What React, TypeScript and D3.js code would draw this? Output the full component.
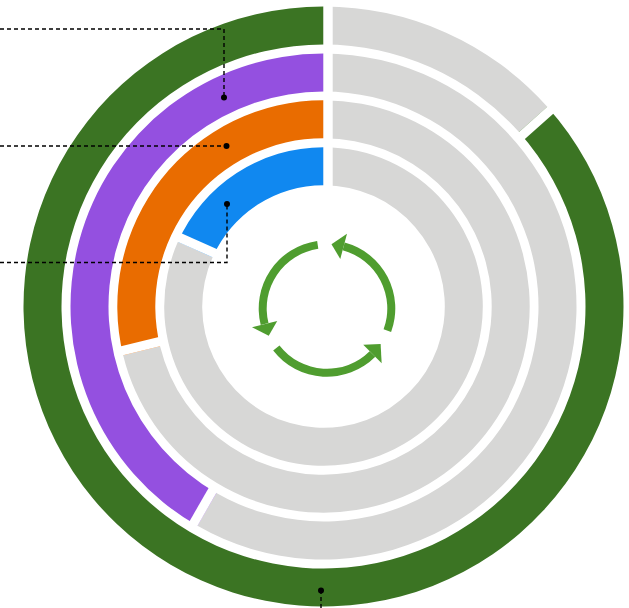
import React from "react";
import * as d3 from "d3";

const ringNames = ["outer", "second", "third", "inner"];
const ringShares = [86.6, 41.7, 28.8, 18.35];
const ringColors = ["#3b7423", "#9450e0", "#e96c00", "#1088f0"];
const restColor = "#d7d7d6";
const outerRadii = [300, 253, 206.2, 159.3];
const ringWidth = 38;
const gap = 9.2;

const arrowStarts = [-8.3, 232, 110.2];
const arrowEnds = [-104, 135, 15];
const arrowTips = [-115, 123.5, 4];

const leaderA = [[0, 29], [224, 29], [224, 97.5]];
const leaderB = [[0, 146], [226.5, 146]];
const leaderC = [[0, 262.5], [227, 262.5], [227, 204]];
const leaderD = [[321, 608], [321, 590.5]];
const leaders = [leaderA, leaderB, leaderC, leaderD];

const W = 629, H = 608;
const cx = 323.5, cy = 306.5;
const acx = 327, acy = 308.5, ar = 64.3;

const shareToAngle = d3.scaleLinear().domain([0, 100]).range([0, 2 * Math.PI]);
const deg = (d: number) => (d * Math.PI) / 180;
const polar = (a: number, r: number): [number, number] => [
  acx + r * Math.sin(deg(a)),
  acy - r * Math.cos(deg(a)),
];

export default function App() {
  const arc = d3.arc();
  const arrowArc = d3.arc();
  const line = d3.line();
  return (
    <svg
      width={W}
      height={H}
      viewBox={`0 0 ${W} ${H}`}
      style={{ position: "absolute", left: 0, top: 0, display: "block" }}
    >
      <rect width={W} height={H} fill="#fff" />
      <g transform={`translate(${cx},${cy})`}>
        {ringNames.map((name, i) => {
          const share = ringShares[i];
          const boundary = shareToAngle(100 - share);
          const R = outerRadii[i];
          const r0 = R - ringWidth;
          return (
            <g key={name}>
              <path
                d={arc({ innerRadius: r0, outerRadius: R, startAngle: 0, endAngle: boundary } as any) as string}
                fill={restColor}
              />
              <path
                d={arc({ innerRadius: r0, outerRadius: R, startAngle: boundary, endAngle: 2 * Math.PI } as any) as string}
                fill={ringColors[i]}
              />
              {[0, boundary].map((a, k) => (
                <rect
                  key={k}
                  x={0}
                  y={-R - 1}
                  width={gap}
                  height={ringWidth + 2}
                  fill="#fff"
                  transform={`rotate(${(a * 180) / Math.PI})`}
                />
              ))}
            </g>
          );
        })}
      </g>
      {arrowStarts.map((s, i) => {
        const e = arrowEnds[i];
        const t = arrowTips[i];
        const lo = Math.min(s, e), hi = Math.max(s, e);
        return (
          <g key={i} fill="#4f9d2f">
            <path
              transform={`translate(${acx},${acy})`}
              d={arrowArc({ innerRadius: ar - 4, outerRadius: ar + 4, startAngle: deg(lo), endAngle: deg(hi) } as any) as string}
            />
            <path d={(line([polar(e, ar + 13), polar(t, ar), polar(e, ar - 13)]) as string) + "Z"} />
          </g>
        );
      })}
      {leaders.map((l, i) => (
        <g key={i}>
          <path
            d={line(l as [number, number][]) as string}
            fill="none"
            stroke="#000"
            strokeWidth={1.4}
            strokeDasharray="4 3"
          />
          <circle cx={l[l.length - 1][0]} cy={l[l.length - 1][1]} r={3} fill="#000" />
        </g>
      ))}
    </svg>
  );
}
